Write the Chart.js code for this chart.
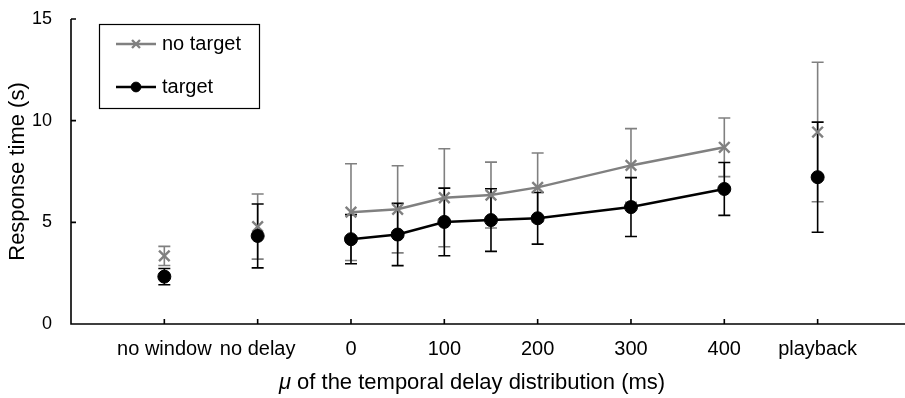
<!DOCTYPE html>
<html><head><meta charset="utf-8">
<script src="https://cdn.jsdelivr.net/npm/chart.js@4/dist/chart.umd.min.js"></script>
<style>html,body{margin:0;padding:0;background:#fff}#wrap{width:905px;height:398px}</style>
</head><body><div id="wrap"><canvas id="c" width="905" height="398"></canvas></div>
<script>
// ---- data ----
const conditions = ['no window','no delay','0','50','100','150','200','300','400','playback'];
const conditionX = [-200,-100,0,50,100,150,200,300,400,500];
const noTargetMean = [3.35, 4.79, 5.50, 5.64, 6.21, 6.34, 6.72, 7.80, 8.69, 9.44];
const noTargetSD   = [0.47, 1.60, 2.38, 2.14, 2.41, 1.62, 1.69, 1.81, 1.44, 3.43];
const targetMean   = [2.33, 4.33, 4.17, 4.40, 5.02, 5.11, 5.20, 5.75, 6.64, 7.22];
const targetSD     = [0.40, 1.57, 1.21, 1.53, 1.66, 1.54, 1.27, 1.45, 1.30, 2.71];
const xTickValues = [-200,-100,0,100,200,300,400,500];
const xTickLabels = ['no window','no delay','0','100','200','300','400','playback'];
const yTickValues = [0,5,10,15];
const xTitleSymbol = 'μ';
const xTitleRest = ' of the temporal delay distribution (ms)';

const FONT = '"Liberation Sans", Arial, Helvetica, sans-serif';
const GRAY = '#808080', BLACK = '#000000';
const connected = conditions.map(c => !isNaN(Number(c)));
const pts = mean => conditionX.map((x, i) => ({x, y: mean[i]}));
const segColor = col => ctx => (connected[ctx.p0DataIndex] && connected[ctx.p1DataIndex]) ? col : 'rgba(0,0,0,0)';

const errorBars = {
  id: 'errorBars',
  beforeDatasetsDraw(chart) {
    const {ctx} = chart, xs = chart.scales.x, ys = chart.scales.y;
    chart.data.datasets.forEach(ds => {
      ctx.save();
      ctx.strokeStyle = ds.borderColor; ctx.lineWidth = 1.6;
      ds.data.forEach((p, i) => {
        const px = xs.getPixelForValue(p.x);
        const t = ys.getPixelForValue(p.y + ds.errors[i]);
        const b = ys.getPixelForValue(p.y - ds.errors[i]);
        ctx.beginPath();
        ctx.moveTo(px, t); ctx.lineTo(px, b);
        ctx.moveTo(px - 6, t); ctx.lineTo(px + 6, t);
        ctx.moveTo(px - 6, b); ctx.lineTo(px + 6, b);
        ctx.stroke();
      });
      ctx.restore();
    });
  }
};

const axesLines = {
  id: 'axesLines',
  afterDraw(chart) {
    const {ctx, chartArea: a} = chart, xs = chart.scales.x, ys = chart.scales.y;
    ctx.save();
    ctx.strokeStyle = '#000'; ctx.lineWidth = 1.6;
    ctx.beginPath();
    ctx.moveTo(a.left, a.top); ctx.lineTo(a.left, a.bottom); ctx.lineTo(chart.width, a.bottom);
    yTickValues.forEach(v => { const y = ys.getPixelForValue(v); ctx.moveTo(a.left, y); ctx.lineTo(a.left + 5, y); });
    xTickValues.forEach(v => { const x = xs.getPixelForValue(v); ctx.moveTo(x, a.bottom); ctx.lineTo(x, a.bottom - 5); });
    ctx.stroke();
    // x-axis title with italic symbol
    ctx.fillStyle = '#000'; ctx.textBaseline = 'middle'; ctx.textAlign = 'left';
    const fi = 'italic 22px ' + FONT, fr = '22px ' + FONT;
    ctx.font = fi; const w1 = ctx.measureText(xTitleSymbol).width;
    ctx.font = fr; const w2 = ctx.measureText(xTitleRest).width;
    let x0 = 472 - (w1 + w2) / 2;
    const ty = 383;
    ctx.font = fi; ctx.fillText(xTitleSymbol, x0, ty);
    ctx.font = fr; ctx.fillText(xTitleRest, x0 + w1, ty);
    ctx.restore();
  }
};

const boxLegend = {
  id: 'boxLegend',
  afterDraw(chart) {
    const {ctx} = chart;
    ctx.save();
    ctx.strokeStyle = '#000'; ctx.lineWidth = 1.2;
    ctx.strokeRect(99.5, 24.5, 160, 84);
    const rows = [44, 87];
    chart.data.datasets.forEach((ds, i) => {
      const y = rows[i];
      ctx.strokeStyle = ds.borderColor; ctx.lineWidth = ds.borderWidth;
      ctx.beginPath(); ctx.moveTo(116, y); ctx.lineTo(156, y); ctx.stroke();
      ctx.fillStyle = ds.pointBackgroundColor; ctx.strokeStyle = ds.pointBorderColor;
      ctx.lineWidth = ds.pointBorderWidth;
      Chart.helpers.drawPoint(ctx, {pointStyle: ds.pointStyle, radius: ds.pointRadius * 0.75, rotation: 0, borderWidth: ds.pointBorderWidth}, 136, y);
      ctx.fillStyle = '#000'; ctx.font = '20px ' + FONT; ctx.textBaseline = 'middle'; ctx.textAlign = 'left';
      ctx.fillText(ds.label, 162, y);
    });
    ctx.restore();
  }
};

new Chart(document.getElementById('c'), {
  type: 'line',
  data: {
    datasets: [
      { label: 'no target', data: pts(noTargetMean), errors: noTargetSD, order: 1,
        borderColor: GRAY, borderWidth: 2.5, pointStyle: 'crossRot', pointRadius: 7.5,
        pointBorderColor: GRAY, pointBackgroundColor: GRAY, pointBorderWidth: 2.4,
        segment: { borderColor: segColor(GRAY) }, fill: false, tension: 0 },
      { label: 'target', data: pts(targetMean), errors: targetSD, order: 0,
        borderColor: BLACK, borderWidth: 2.5, pointStyle: 'circle', pointRadius: 6.5,
        pointBorderColor: BLACK, pointBackgroundColor: BLACK, pointBorderWidth: 1,
        segment: { borderColor: segColor(BLACK) }, fill: false, tension: 0 }
    ]
  },
  options: {
    responsive: false, animation: false, devicePixelRatio: 1,
    layout: { padding: { top: 19, right: 0, left: 0, bottom: 0 } },
    plugins: { legend: { display: false }, tooltip: { enabled: false } },
    scales: {
      x: {
        type: 'linear', min: -300, max: 583,
        afterBuildTicks: s => { s.ticks = xTickValues.map(v => ({value: v})); },
        afterFit: s => { s.height = 74; },
        grid: { display: false, drawTicks: false }, border: { display: false },
        ticks: { autoSkip: false, maxRotation: 0, padding: 13, color: '#000', font: { size: 20, family: FONT },
          callback: v => { const k = xTickValues.indexOf(v); return k >= 0 ? xTickLabels[k] : ''; } },
        title: { display: false }
      },
      y: {
        min: 0, max: 15,
        afterBuildTicks: s => { s.ticks = yTickValues.map(v => ({value: v})); },
        afterFit: s => { s.width = 71; s.paddingTop = 0; s.paddingBottom = 0; },
        grid: { display: false, drawTicks: false }, border: { display: false },
        ticks: { padding: 19, color: '#000', font: { size: 18, family: FONT } },
        title: { display: true, text: 'Response time (s)', color: '#000',
          font: { size: 22, family: FONT }, padding: { top: 5, bottom: 0 } }
      }
    }
  },
  plugins: [errorBars, axesLines, boxLegend]
});
</script></body></html>
